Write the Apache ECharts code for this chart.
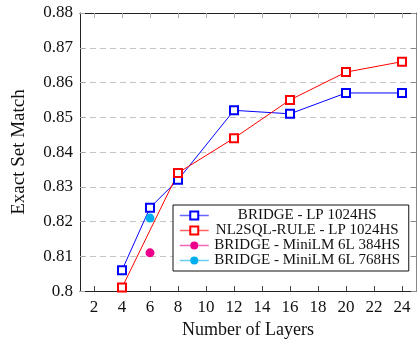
<!DOCTYPE html>
<html>
<head>
<meta charset="utf-8">
<script src="https://cdn.jsdelivr.net/npm/echarts@6/dist/echarts.min.js"></script>
<style>html,body{margin:0;padding:0;background:#fff}#c{width:417px;height:344px}</style>
</head>
<body>
<div id="c"></div>
<script>
const xTicks = [2, 4, 6, 8, 10, 12, 14, 16, 18, 20, 22, 24];
const bridgeLayers = [4, 6, 8, 12, 16, 20, 24];
const bridgeLP = [0.806, 0.824, 0.832, 0.852, 0.851, 0.857, 0.857];
const nl2sqlLayers = [4, 8, 12, 16, 20, 24];
const nl2sqlLP = [0.801, 0.834, 0.844, 0.855, 0.863, 0.866];
const miniLM384Layers = [6];
const miniLM384 = [0.811];
const miniLM768Layers = [6];
const miniLM768 = [0.821];
const names = ['BRIDGE - LP 1024HS', 'NL2SQL-RULE - LP 1024HS', 'BRIDGE - MiniLM 6L 384HS', 'BRIDGE - MiniLM 6L 768HS'];

const zip = (xs, ys) => xs.map((x, i) => [x, ys[i]]);
const font = '"Liberation Serif", "Times New Roman", serif';

const chart = echarts.init(document.getElementById('c'));
const axisLine = { show: true, lineStyle: { color: '#222', width: 1 } };
chart.setOption({
  animation: false,
  textStyle: { fontFamily: font },
  grid: { left: 80, right: 1, top: 13, bottom: 51 },
  xAxis: [{
    type: 'value', min: 1, max: 25, position: 'bottom',
    name: 'Number of Layers', nameLocation: 'middle', nameGap: 38,
    nameTextStyle: { fontFamily: font, fontSize: 18, color: '#111', verticalAlign: 'middle' },
    axisLine: axisLine,
    axisTick: { show: true, inside: true, length: 5, customValues: xTicks, lineStyle: { color: '#444' } },
    axisLabel: { customValues: xTicks, fontFamily: font, fontSize: 17, color: '#111', margin: 8 },
    splitLine: { show: false }
  }, {
    type: 'value', min: 1, max: 25, position: 'top',
    axisLine: axisLine,
    axisTick: { show: true, inside: true, length: 5, customValues: xTicks, lineStyle: { color: '#aaa' } },
    axisLabel: { show: false },
    splitLine: { show: false }
  }],
  yAxis: [{
    type: 'value', min: 0.80, max: 0.88, interval: 0.01, position: 'left',
    name: 'Exact Set Match', nameLocation: 'middle', nameGap: 61,
    nameTextStyle: { fontFamily: font, fontSize: 19, color: '#111', verticalAlign: 'middle' },
    axisLine: axisLine,
    axisTick: { show: true, inside: true, length: 5, lineStyle: { color: '#aaa' } },
    axisLabel: { fontFamily: font, fontSize: 17, color: '#111', margin: 7,
      formatter: v => String(Math.round(v * 100) / 100) },
    splitLine: { show: true, lineStyle: { color: '#c4c4c4', type: [6, 4], width: 1 } }
  }, {
    type: 'value', min: 0.80, max: 0.88, interval: 0.01, position: 'right',
    axisLine: { show: true, lineStyle: { color: '#888', width: 1 } },
    axisTick: { show: true, inside: true, length: 5, lineStyle: { color: '#888' } },
    axisLabel: { show: false },
    splitLine: { show: false }
  }],
  legend: {
    orient: 'vertical', left: 173, top: 205,
    backgroundColor: '#fff', borderColor: '#111', borderWidth: 1,
    padding: [3, 8, 3, 6], itemGap: 0, itemWidth: 29, itemHeight: 10,
    itemStyle: { borderWidth: 1 },
    lineStyle: { width: 1.5, opacity: 0.6 },
    data: names,
    formatter: n => '{a|' + n + '}',
    textStyle: { rich: { a: { fontFamily: font, fontSize: 15, color: '#111', width: 187, align: 'center', lineHeight: 18 } } }
  },
  series: [{
    name: names[0], type: 'line', data: zip(bridgeLayers, bridgeLP),
    symbol: 'emptyRect', symbolSize: 8, showAllSymbol: true,
    lineStyle: { color: '#0000ff', width: 1 }, itemStyle: { color: '#0000ff', borderWidth: 1 }
  }, {
    name: names[1], type: 'line', data: zip(nl2sqlLayers, nl2sqlLP),
    symbol: 'emptyRect', symbolSize: 8, showAllSymbol: true,
    lineStyle: { color: '#ff0000', width: 1 }, itemStyle: { color: '#ff0000', borderWidth: 1 }
  }, {
    name: names[2], type: 'line', data: zip(miniLM384Layers, miniLM384),
    symbol: 'circle', symbolSize: 9,
    lineStyle: { color: '#ec008c', width: 1 }, itemStyle: { color: '#ec008c' }
  }, {
    name: names[3], type: 'line', data: zip(miniLM768Layers, miniLM768),
    symbol: 'circle', symbolSize: 9,
    lineStyle: { color: '#00aeef', width: 1 }, itemStyle: { color: '#00aeef' }
  }]
});
</script>
</body>
</html>
